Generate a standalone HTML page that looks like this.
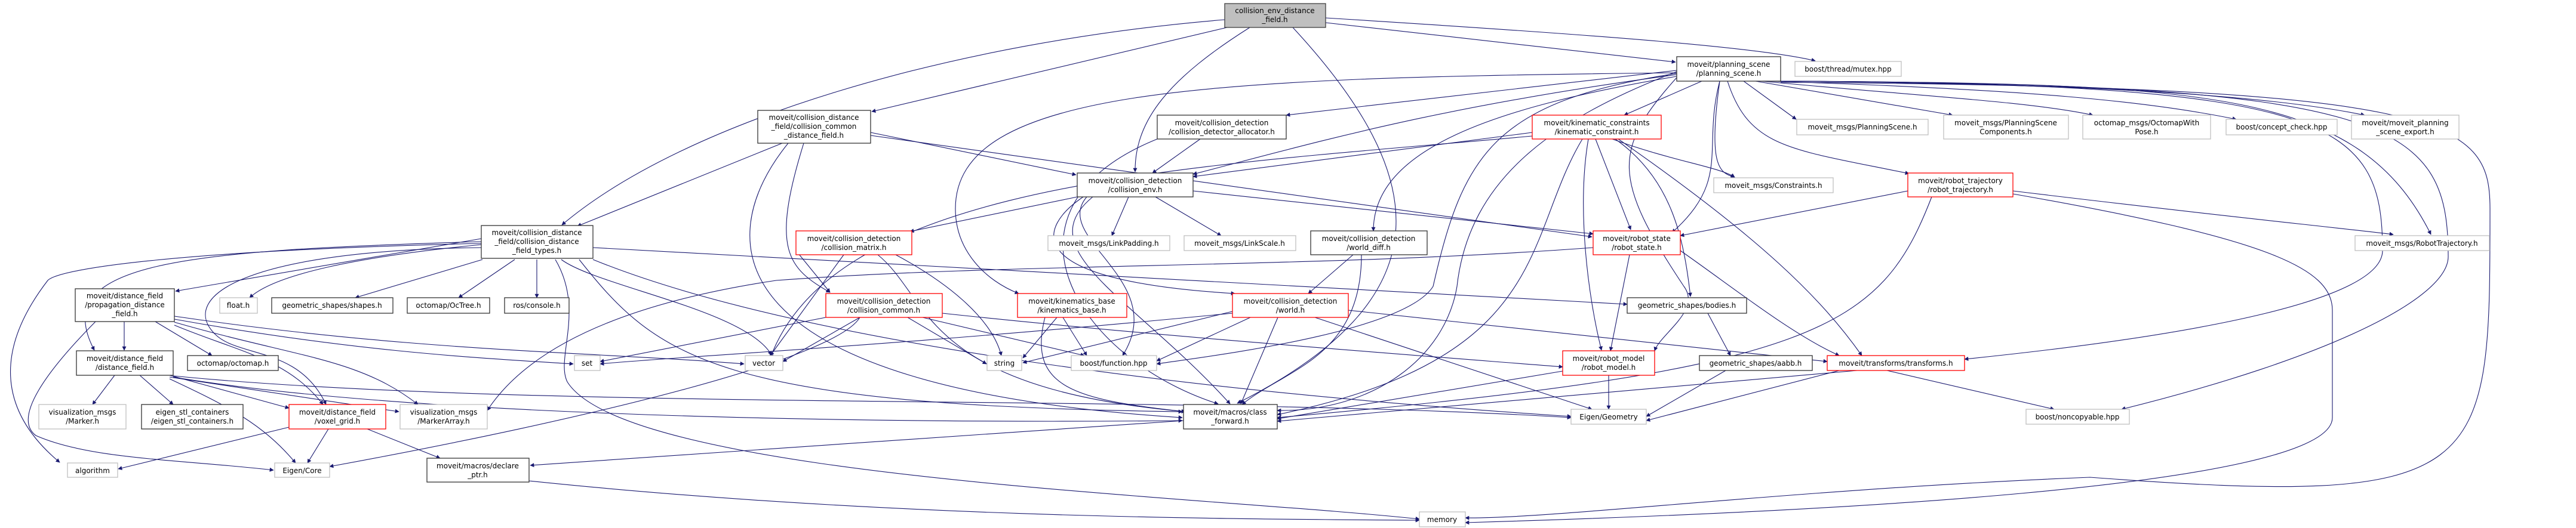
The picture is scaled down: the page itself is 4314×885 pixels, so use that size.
<!DOCTYPE html>
<html><head><meta charset="utf-8"><style>
html,body{margin:0;padding:0;background:#fff}
svg{display:block}
text{font-family:"DejaVu Sans","Liberation Sans",sans-serif;font-size:12px;fill:#000;text-anchor:middle}
.e{fill:none;stroke:#191970;stroke-width:1.1}
</style></head><body>
<svg width="4314" height="885" viewBox="0 0 4314 885" xmlns="http://www.w3.org/2000/svg">
<defs><marker id="a" viewBox="0 0 10 10" refX="9" refY="5" markerWidth="9" markerHeight="7" orient="auto" markerUnits="userSpaceOnUse"><path d="M0,0 L10,5 L0,10 z" fill="#191970"/></marker></defs>
<g class="e" marker-end="url(#a)">
<path d="M2051,33 C1600,70 1150,200 941,377"/>
<path d="M2055,46 L1460,187"/>
<path d="M2093,46 C1960,130 1900,200 1901,288"/>
<path d="M2165,46 C2400,300 2420,500 2072,676"/>
<path d="M2220,38 L2806,104"/>
<path d="M2220,30 C2700,60 2950,80 3040,102"/>
<path d="M1310,240 L967,379"/>
<path d="M1320,240 C1190,400 1190,650 1980,700"/>
<path d="M1346,240 C1290,420 1320,450 1390,490"/>
<path d="M1458,222 L1802,293"/>
<path d="M1458,227 L2666,397"/>
<path d="M806,400 L294,488"/>
<path d="M806,405 C300,420 80,440 158,587"/>
<path d="M806,410 C600,430 460,460 418,499"/>
<path d="M808,435 L595,499"/>
<path d="M862,435 L768,499"/>
<path d="M899,435 L899,499"/>
<path d="M940,435 C1000,480 1250,520 1292,595"/>
<path d="M806,415 C400,420 300,500 360,560 C400,600 500,580 546,678"/>
<path d="M806,408 C300,420 100,450 80,470 C-20,600 10,700 100,775"/>
<path d="M930,435 C980,520 930,600 950,640 C1050,800 2000,830 2377,870"/>
<path d="M970,435 C1100,600 1200,680 1980,690"/>
<path d="M993,415 L2725,510"/>
<path d="M993,435 C1300,560 1900,650 2631,698"/>
<path d="M208,539 L208,587"/>
<path d="M260,539 L355,596"/>
<path d="M292,535 C600,590 800,600 960,610"/>
<path d="M292,530 C700,590 1000,590 1246,610"/>
<path d="M292,545 C400,590 480,600 541,678"/>
<path d="M292,540 C500,600 600,600 700,678"/>
<path d="M160,539 C80,620 20,700 60,730 C150,770 300,770 458,788"/>
<path d="M192,629 L155,678"/>
<path d="M234,629 L290,678"/>
<path d="M284,629 L484,684"/>
<path d="M284,632 L668,690"/>
<path d="M284,635 C380,680 440,710 495,776"/>
<path d="M290,632 C700,700 1500,710 1980,705"/>
<path d="M290,630 C900,690 2000,660 2631,700"/>
<path d="M484,716 L198,786"/>
<path d="M550,719 L515,776"/>
<path d="M615,719 L737,768"/>
<path d="M886,806 C1500,870 2100,870 2377,872"/>
<path d="M1982,705 L888,780"/>
<path d="M1413,427 L1290,596"/>
<path d="M1333,420 L1390,490"/>
<path d="M1500,427 C1580,470 1660,530 1677,596"/>
<path d="M1470,427 C1560,500 1540,650 1985,690"/>
<path d="M1383,532 L1005,606"/>
<path d="M1440,532 L1311,606"/>
<path d="M1520,532 L1652,610"/>
<path d="M1545,532 L1816,596"/>
<path d="M1440,532 C1400,600 1000,700 552,782"/>
<path d="M1578,525 C1900,560 2300,590 2617,615"/>
<path d="M1804,330 L1524,388"/>
<path d="M1890,330 L1862,395"/>
<path d="M1935,330 L2045,395"/>
<path d="M1998,320 L2668,392"/>
<path d="M1814,330 C1740,380 1700,470 2068,492"/>
<path d="M1820,330 C1760,400 1960,470 1880,596"/>
<path d="M1830,330 C1720,420 1900,500 2060,677"/>
<path d="M2010,233 L1930,290"/>
<path d="M1938,233 C1650,350 1800,600 2040,677"/>
<path d="M2808,118 L2154,193"/>
<path d="M2850,136 L2720,193"/>
<path d="M2808,125 C2400,180 2200,240 1998,292"/>
<path d="M2808,128 C2500,180 2300,250 2300,387"/>
<path d="M2880,136 C2850,250 2900,300 2800,390"/>
<path d="M2920,136 L3008,200"/>
<path d="M2940,136 L3270,193"/>
<path d="M2950,136 C3200,160 3400,170 3505,193"/>
<path d="M2960,136 C3400,150 3600,170 3745,200"/>
<path d="M2970,136 C3500,140 3800,160 3960,193"/>
<path d="M2880,136 C2860,280 2880,290 2905,297"/>
<path d="M2893,136 C2930,250 3000,250 3197,291"/>
<path d="M2980,136 C3700,140 3950,150 4071,393"/>
<path d="M2982,136 C3900,140 3990,200 3990,420 C3990,500 3700,560 3290,602"/>
<path d="M2982,136 C4000,140 4100,200 4100,430 C4100,500 3900,600 3553,686"/>
<path d="M2982,138 C4100,145 4170,200 4170,350 C4170,800 4170,850 3500,800 C3000,820 2600,870 2454,868"/>
<path d="M2808,122 C2000,130 1600,150 1600,350 C1600,420 1650,470 1706,492"/>
<path d="M2808,120 C2600,200 2460,300 2440,480 C2420,600 2300,690 2139,688"/>
<path d="M2808,123 C2500,170 2450,260 2400,480 C2350,560 2000,600 1937,610"/>
<path d="M2566,222 L1998,296"/>
<path d="M2566,228 C2000,280 1400,300 1290,600"/>
<path d="M2672,233 L2731,385"/>
<path d="M2700,233 C2800,270 2880,280 2905,297"/>
<path d="M2705,233 C2800,300 2820,400 2831,497"/>
<path d="M2660,233 C2640,350 2660,500 2682,587"/>
<path d="M2710,233 C2950,400 3050,500 3118,596"/>
<path d="M2650,233 C2550,400 2600,600 2139,695"/>
<path d="M2266,427 L2191,492"/>
<path d="M2280,427 C2280,600 2150,620 2080,678"/>
<path d="M2729,427 L2697,588"/>
<path d="M2814,420 C2900,480 3000,560 3080,596"/>
<path d="M2668,415 C2200,450 1700,440 1300,470 C1100,500 900,560 816,688"/>
<path d="M1770,532 L1713,600"/>
<path d="M1780,532 L1820,596"/>
<path d="M1750,532 C1720,650 1800,670 1985,690"/>
<path d="M2064,522 L1713,608"/>
<path d="M2094,532 L1937,605"/>
<path d="M2140,532 L2078,677"/>
<path d="M2202,532 L2666,686"/>
<path d="M2258,520 L3060,606"/>
<path d="M2064,525 C1500,580 1100,600 1005,610"/>
<path d="M2617,622 L2139,702"/>
<path d="M2694,629 L2694,686"/>
<path d="M2860,525 L2898,596"/>
<path d="M2890,621 L2757,698"/>
<path d="M3110,621 L2139,706"/>
<path d="M3080,621 L2757,705"/>
<path d="M3160,621 L3440,686"/>
<path d="M3195,320 L2814,395"/>
<path d="M3371,320 C3700,360 3900,380 4008,393"/>
<path d="M3235,330 C3150,550 3050,620 2139,700"/>
<path d="M3371,325 C3800,400 3906,450 3906,520 L3906,700 C3906,820 3000,860 2454,876"/>
<path d="M2808,130 C2700,250 2700,300 2820,480 C2850,520 2780,560 2771,588"/>
</g>
<g stroke-width="1.3">
<rect x="2051" y="6" width="169" height="40" fill="#bfbfbf" stroke="#404040"/>
<g fill="#fff" stroke="#333">
<rect x="1269" y="185" width="189" height="55"/>
<rect x="806" y="378" width="187" height="55"/>
<rect x="126" y="484" width="166" height="55"/>
<rect x="455" y="499" width="203" height="26"/>
<rect x="682" y="499" width="138" height="26"/>
<rect x="845" y="499" width="108" height="26"/>
<rect x="128" y="588" width="162" height="41"/>
<rect x="314" y="596" width="152" height="25"/>
<rect x="237" y="678" width="170" height="41"/>
<rect x="715" y="768" width="171" height="40"/>
<rect x="2808" y="95" width="174" height="41"/>
<rect x="1938" y="193" width="216" height="40"/>
<rect x="1804" y="290" width="194" height="40"/>
<rect x="2195" y="387" width="195" height="40"/>
<rect x="2725" y="499" width="200" height="26"/>
<rect x="2846" y="596" width="189" height="25"/>
<rect x="1982" y="678" width="157" height="41"/>
</g>
<g fill="#fff" stroke="#f00">
<rect x="484" y="678" width="162" height="41"/>
<rect x="1333" y="387" width="194" height="40"/>
<rect x="1383" y="492" width="195" height="40"/>
<rect x="2566" y="193" width="216" height="40"/>
<rect x="2668" y="387" width="146" height="40"/>
<rect x="1704" y="492" width="183" height="40"/>
<rect x="2064" y="492" width="194" height="40"/>
<rect x="2617" y="588" width="154" height="41"/>
<rect x="3195" y="290" width="176" height="40"/>
<rect x="3060" y="596" width="230" height="25"/>
</g>
<g fill="#fff" stroke="#bfbfbf">
<rect x="368" y="499" width="63" height="26"/>
<rect x="962" y="596" width="43" height="25"/>
<rect x="1248" y="596" width="63" height="25"/>
<rect x="65" y="678" width="146" height="41"/>
<rect x="670" y="678" width="146" height="41"/>
<rect x="113" y="776" width="84" height="24"/>
<rect x="460" y="776" width="92" height="24"/>
<rect x="1755" y="395" width="204" height="25"/>
<rect x="1983" y="395" width="187" height="25"/>
<rect x="1653" y="596" width="58" height="25"/>
<rect x="1794" y="596" width="143" height="25"/>
<rect x="2631" y="686" width="126" height="25"/>
<rect x="2377" y="858" width="77" height="25"/>
<rect x="3006" y="103" width="178" height="25"/>
<rect x="3009" y="200" width="220" height="26"/>
<rect x="3255" y="193" width="209" height="40"/>
<rect x="3488" y="193" width="214" height="40"/>
<rect x="3728" y="200" width="186" height="26"/>
<rect x="3938" y="193" width="180" height="40"/>
<rect x="2870" y="298" width="200" height="25"/>
<rect x="3944" y="395" width="225" height="25"/>
<rect x="3393" y="686" width="173" height="25"/>
</g>
</g>
<g>
<text x="2135" y="22">collision_env_distance</text><text x="2135" y="37">_field.h</text>
<text x="1363" y="201">moveit/collision_distance</text><text x="1363" y="216">_field/collision_common</text><text x="1363" y="231">_distance_field.h</text>
<text x="899" y="394">moveit/collision_distance</text><text x="899" y="409">_field/collision_distance</text><text x="899" y="424">_field_types.h</text>
<text x="209" y="500">moveit/distance_field</text><text x="209" y="515">/propagation_distance</text><text x="209" y="530">_field.h</text>
<text x="399" y="516">float.h</text>
<text x="556" y="516">geometric_shapes/shapes.h</text>
<text x="751" y="516">octomap/OcTree.h</text>
<text x="899" y="516">ros/console.h</text>
<text x="209" y="605">moveit/distance_field</text><text x="209" y="620">/distance_field.h</text>
<text x="390" y="613">octomap/octomap.h</text>
<text x="983" y="613">set</text>
<text x="1279" y="613">vector</text>
<text x="138" y="695">visualization_msgs</text><text x="138" y="710">/Marker.h</text>
<text x="322" y="695">eigen_stl_containers</text><text x="322" y="710">/eigen_stl_containers.h</text>
<text x="565" y="695">moveit/distance_field</text><text x="565" y="710">/voxel_grid.h</text>
<text x="743" y="695">visualization_msgs</text><text x="743" y="710">/MarkerArray.h</text>
<text x="155" y="793">algorithm</text>
<text x="506" y="793">Eigen/Core</text>
<text x="800" y="785">moveit/macros/declare</text><text x="800" y="800">_ptr.h</text>
<text x="1430" y="404">moveit/collision_detection</text><text x="1430" y="419">/collision_matrix.h</text>
<text x="1480" y="509">moveit/collision_detection</text><text x="1480" y="524">/collision_common.h</text>
<text x="2895" y="112">moveit/planning_scene</text><text x="2895" y="127">/planning_scene.h</text>
<text x="2046" y="210">moveit/collision_detection</text><text x="2046" y="225">/collision_detector_allocator.h</text>
<text x="2674" y="210">moveit/kinematic_constraints</text><text x="2674" y="225">/kinematic_constraint.h</text>
<text x="1901" y="307">moveit/collision_detection</text><text x="1901" y="322">/collision_env.h</text>
<text x="1857" y="412">moveit_msgs/LinkPadding.h</text>
<text x="2076" y="412">moveit_msgs/LinkScale.h</text>
<text x="2292" y="404">moveit/collision_detection</text><text x="2292" y="419">/world_diff.h</text>
<text x="2741" y="404">moveit/robot_state</text><text x="2741" y="419">/robot_state.h</text>
<text x="1795" y="509">moveit/kinematics_base</text><text x="1795" y="524">/kinematics_base.h</text>
<text x="2161" y="509">moveit/collision_detection</text><text x="2161" y="524">/world.h</text>
<text x="2825" y="516">geometric_shapes/bodies.h</text>
<text x="1682" y="613">string</text>
<text x="1865" y="613">boost/function.hpp</text>
<text x="2694" y="605">moveit/robot_model</text><text x="2694" y="620">/robot_model.h</text>
<text x="2940" y="613">geometric_shapes/aabb.h</text>
<text x="2060" y="695">moveit/macros/class</text><text x="2060" y="710">_forward.h</text>
<text x="2694" y="703">Eigen/Geometry</text>
<text x="2415" y="875">memory</text>
<text x="3095" y="120">boost/thread/mutex.hpp</text>
<text x="3119" y="217">moveit_msgs/PlanningScene.h</text>
<text x="3359" y="210">moveit_msgs/PlanningScene</text><text x="3359" y="225">Components.h</text>
<text x="3595" y="210">octomap_msgs/OctomapWith</text><text x="3595" y="225">Pose.h</text>
<text x="3821" y="217">boost/concept_check.hpp</text>
<text x="4028" y="210">moveit/moveit_planning</text><text x="4028" y="225">_scene_export.h</text>
<text x="2970" y="315">moveit_msgs/Constraints.h</text>
<text x="3283" y="307">moveit/robot_trajectory</text><text x="3283" y="322">/robot_trajectory.h</text>
<text x="4056" y="412">moveit_msgs/RobotTrajectory.h</text>
<text x="3175" y="613">moveit/transforms/transforms.h</text>
<text x="3479" y="703">boost/noncopyable.hpp</text>
</g>
</svg>
</body></html>
